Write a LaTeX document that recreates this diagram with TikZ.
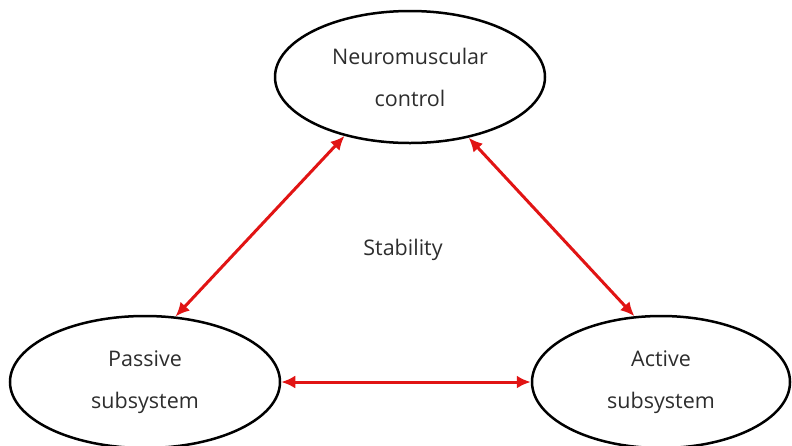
\documentclass[tikz,border=0pt]{standalone}
\usepackage{fontspec}
\setmainfont{Open Sans}
\usepackage{xcolor}
\usetikzlibrary{shapes.geometric, arrows.meta}

\definecolor{linkred}{RGB}{225,20,20}
\definecolor{textgray}{RGB}{45,45,45}

\begin{document}
\begin{tikzpicture}[
    x=1pt, y=-1pt,
    font=\fontsize{21.5}{42}\selectfont,
    bubble/.style={ellipse, draw=black, line width=2.5pt, text=textgray, align=center, inner sep=0pt, minimum width=270pt, minimum height=132pt},
    arrow/.style={{Latex[length=14pt, width=13pt]}-{Latex[length=14pt, width=13pt]}, line width=3pt, draw=linkred}
]
    \useasboundingbox (0,0) rectangle (792,445);

    % Nodes
    \node[bubble] (ctrl) at (410,77) {Neuromuscular\\control};
    \node[bubble] (pas) at (145,382) {Passive\\subsystem};
    \node[bubble, minimum width=258pt] (act) at (661,382) {Active\\subsystem};
    \node[text=textgray] (stab) at (403,250) {Stability};

    % Connectors
    \draw[arrow] (ctrl.222) -- (pas.65);
    \draw[arrow] (ctrl.314) -- (act.112);
    \draw[arrow] (pas.east) -- (act.west);
\end{tikzpicture}
\end{document}
